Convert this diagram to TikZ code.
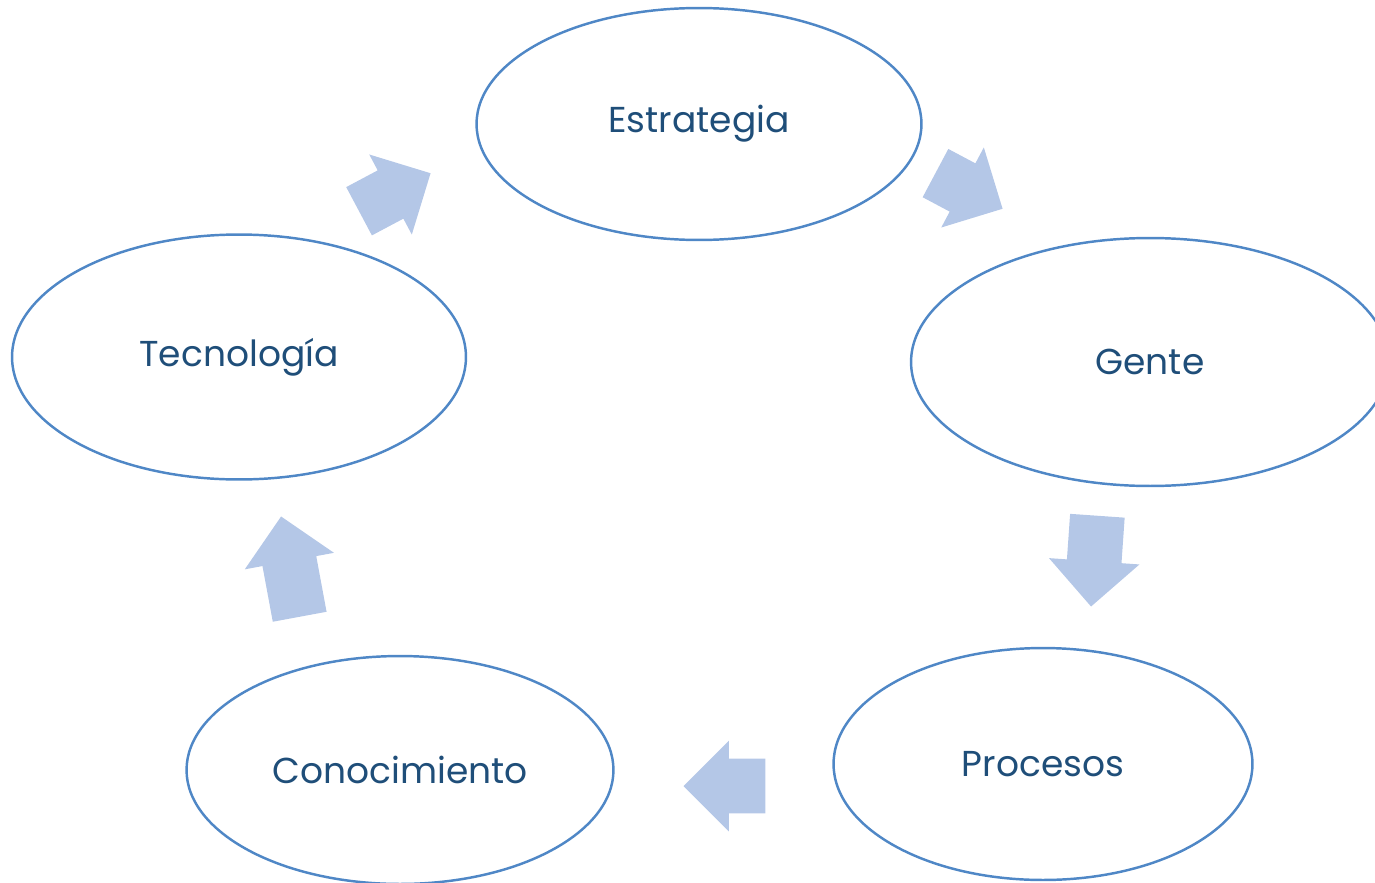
\documentclass[tikz,border=0pt]{standalone}
\usepackage{fontspec}
\setmainfont{Poppins}
\usetikzlibrary{shapes.geometric,shapes.arrows}
\definecolor{rim}{HTML}{4F87C6}
\definecolor{ink}{HTML}{1F4E79}
\definecolor{flow}{HTML}{B4C7E7}
\tikzset{
    every node/.style={inner sep=0pt, text=ink,
    	font=\fontsize{20.5}{24}\selectfont}
}
\tikzset{
    phase/.style={ellipse, draw=rim, line width=1.4pt}
}
\tikzset{
    turn/.style={single arrow, fill=flow, inner xsep=0pt, inner ysep=0.54cm,
    	minimum width=1.8cm, single arrow head extend=0.36cm, anchor=tip}
}

\begin{document}
\begin{tikzpicture}[x=0.02cm, y=-0.02cm]
	\useasboundingbox (0,0) rectangle (1375,882);

	\node (estr) [phase, minimum width=8.9cm, minimum height=4.64cm] at ( 699, 124) {Estrategia};
	\node (gent) [phase, minimum width=9.56cm, minimum height=4.96cm] at (1150, 362) {Gente};
	\node (proc) [phase, minimum width=8.38cm, minimum height=4.64cm] at (1043, 764) {Procesos};
	\node (cono) [phase, minimum width=8.54cm, minimum height=4.56cm] at ( 400, 770) {Conocimiento};
	\node (tecn) [phase, minimum width=9.08cm, minimum height=4.9cm] at ( 239, 357) {Tecnología};

	\node (tecn-estr) [turn, minimum height=1.62cm, rotate=28]   at ( 431, 173) {};
	\node (estr-gent) [turn, minimum height=1.52cm, rotate=-28]  at (1003, 209) {};
	\node (gent-proc) [turn, minimum height=1.82cm, rotate=-94]  at (1091, 607) {};
	\node (proc-cono) [turn, minimum height=1.64cm, rotate=180]  at ( 683, 786) {};
	\node (cono-tecn) [turn, minimum height=2.04cm, rotate=100.5] at ( 281, 516) {};
\end{tikzpicture}
\end{document}
